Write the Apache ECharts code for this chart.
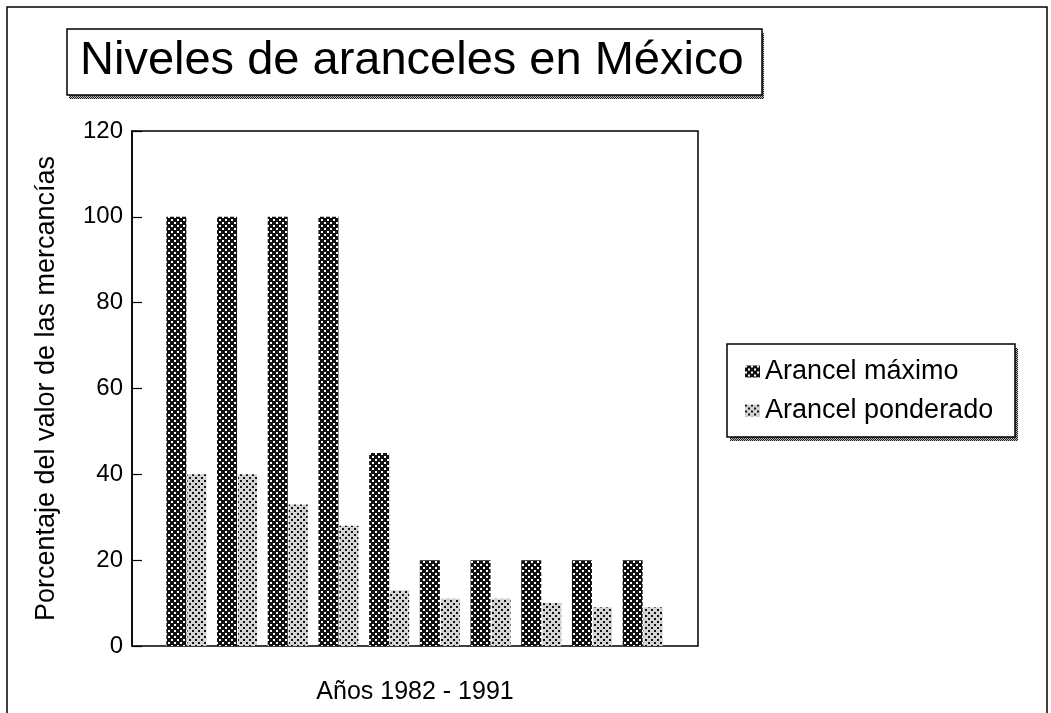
<!DOCTYPE html>
<html>
<head>
<meta charset="utf-8">
<script src="https://cdn.jsdelivr.net/npm/echarts@6/dist/echarts.min.js"></script>
<style>
html,body{margin:0;padding:0;background:#fff;}
#chart{width:1051px;height:713px;}
</style>
</head>
<body>
<div id="chart"></div>
<script>
var years = ['1982','1983','1984','1985','1986','1987','1988','1989','1990','1991'];
var arancelMaximo = [100,100,100,100,45,20,20,20,20,20];
var arancelPonderado = [40,40,33,28,13,11,11,10,9,9];
var yTicks = {min:0, max:120, interval:20};

function makeTile(bg, fg, dots, size){
  var c = document.createElement('canvas');
  c.width = size; c.height = size;
  var g = c.getContext('2d');
  g.fillStyle = bg; g.fillRect(0,0,size,size);
  g.fillStyle = fg;
  dots.forEach(function(d){ g.fillRect(d[0], d[1], d[2], d[2]); });
  return c;
}
var darkTile = makeTile('#111', '#fff', [[0,0,2],[3,3,2]], 6);
var lightTile = makeTile('#d4d4d4', '#111', [[0,0,2],[3,3,2]], 6);
var shadowTile = makeTile('#bbb', '#222', [[0,0,1],[1,1,1]], 2);

var font = 'Liberation Sans, Arial, sans-serif';

function boxWithShadow(x, y, w, h, sx, sy){
  return [
    {type:'rect', z:-5, silent:true, shape:{x:x+sx, y:y+sy, width:w, height:h},
     style:{fill:{image:shadowTile, repeat:'repeat'}, stroke:null}},
    {type:'rect', z:-4, silent:true, shape:{x:x, y:y, width:w, height:h},
     style:{fill:'#fff', stroke:'#000', lineWidth:1.5}}
  ];
}

var chart = echarts.init(document.getElementById('chart'), null, {renderer:'canvas'});
chart.setOption({
  animation:false,
  backgroundColor:'#fff',
  title:{
    text:'Niveles de aranceles en México',
    left:67, top:28,
    padding:[9,14,9,13],
    textStyle:{fontFamily:font, fontSize:47, fontWeight:'normal', color:'#000', lineHeight:48}
  },
  legend:{
    orient:'vertical',
    left:727, top:344,
    padding:[14,28,14,18],
    itemGap:12,
    itemWidth:15, itemHeight:12,
    icon:'rect',
    textStyle:{fontFamily:font, fontSize:27, color:'#000', padding:[0,0,0,0]},
    data:['Arancel máximo','Arancel ponderado']
  },
  graphic:[{
    type:'rect', z:-10, silent:true,
    shape:{x:7, y:7, width:1040, height:730},
    style:{fill:'none', stroke:'#000', lineWidth:1.5}
  }].concat(boxWithShadow(67, 29, 695, 66, 2, 4)).concat(boxWithShadow(727, 344, 288, 93, 3, 4)),
  grid:[
    {left:132, right:353, top:131, bottom:67, show:true, borderColor:'#000', borderWidth:1.5, backgroundColor:'transparent'},
    {left:161, right:383, top:131, bottom:67}
  ],
  xAxis:[
    {type:'value', gridIndex:0, min:0, max:1,
     axisLine:{show:false}, axisTick:{show:false}, axisLabel:{show:false}, splitLine:{show:false},
     name:'Años 1982 - 1991', nameLocation:'middle', nameGap:34,
     nameTextStyle:{fontFamily:font, fontSize:25, color:'#000'}},
    {type:'category', gridIndex:1, data:years, show:false}
  ],
  yAxis:[
    {type:'value', gridIndex:0, min:yTicks.min, max:yTicks.max, interval:yTicks.interval,
     axisLine:{show:true, lineStyle:{color:'#000', width:1.5}},
     axisTick:{show:true, inside:true, length:10, lineStyle:{color:'#000', width:1.2}},
     axisLabel:{fontFamily:font, fontSize:24, color:'#000', margin:9},
     splitLine:{show:false},
     name:'Porcentaje del valor de las mercancías', nameLocation:'middle', nameGap:72, nameRotate:90,
     nameTextStyle:{fontFamily:font, fontSize:27, color:'#000'}},
    {type:'value', gridIndex:1, min:yTicks.min, max:yTicks.max, interval:yTicks.interval, show:false}
  ],
  series:[
    {name:'Arancel máximo', type:'bar', xAxisIndex:1, yAxisIndex:1, data:arancelMaximo,
     barWidth:20, barGap:'5%',
     itemStyle:{color:{image:darkTile, repeat:'repeat'}}},
    {name:'Arancel ponderado', type:'bar', xAxisIndex:1, yAxisIndex:1, data:arancelPonderado,
     barWidth:19, barGap:'5%',
     itemStyle:{color:{image:lightTile, repeat:'repeat'}}}
  ]
});
</script>
</body>
</html>
